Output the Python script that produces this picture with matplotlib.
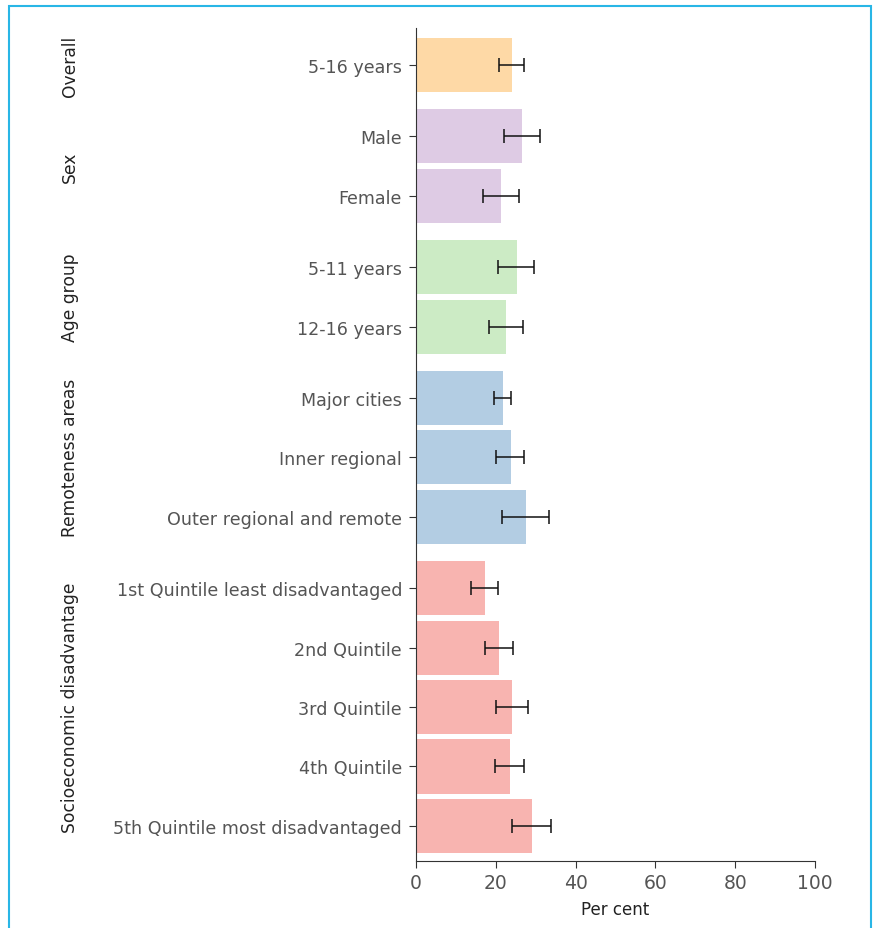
import numpy as np
import matplotlib
matplotlib.use("Agg")
import matplotlib.pyplot as plt
from matplotlib.patches import Rectangle

plt.rcParams['font.family'] = ['DejaVu Sans']

# data
labels = ['5-16 years', 'Male', 'Female', '5-11 years', '12-16 years',
          'Major cities', 'Inner regional', 'Outer regional and remote',
          '1st Quintile least disadvantaged', '2nd Quintile', '3rd Quintile',
          '4th Quintile', '5th Quintile most disadvantaged']
values = [24.0, 26.6, 21.3, 25.3, 22.6, 21.8, 23.8, 27.6, 17.3, 20.8, 24.1, 23.6, 29.1]
ci_low = [20.8, 22.0, 16.8, 20.6, 18.2, 19.5, 20.1, 21.6, 13.7, 17.4, 20.0, 19.8, 24.0]
ci_high = [27.1, 31.0, 25.7, 29.7, 26.8, 23.7, 27.1, 33.3, 20.6, 24.3, 28.1, 27.1, 33.9]
groups = ['Overall', 'Sex', 'Age group', 'Remoteness areas', 'Socioeconomic disadvantage']
group_sizes = [1, 2, 2, 3, 5]
group_colors = ['#fed9a6', '#decbe4', '#ccebc5', '#b3cde3', '#f8b4b0']

# positions with a small gap between groups
pos, colors, group_mid = [], [], []
y = 0.0
for g, n in enumerate(group_sizes):
    start = y
    for k in range(n):
        pos.append(y)
        colors.append(group_colors[g])
        y += 1
    group_mid.append((start + y - 1) / 2)
    y += 0.2
pos = np.array(pos)
values = np.array(values)
err = np.array([values - np.array(ci_low), np.array(ci_high) - values])

fig = plt.figure(figsize=(8.75, 9.29), dpi=100)
ax = fig.add_axes([0.4754, 0.0721, 0.456, 0.8967])

ax.barh(pos, values, height=0.91, color=colors, zorder=2)
ax.errorbar(values, pos, xerr=err, fmt='none', ecolor='#111111',
            elinewidth=1.1, capsize=5, capthick=1.1, zorder=3)

ax.set_ylim(13.39, -0.623)
ax.set_xlim(0, 100)
ax.set_yticks(pos)
ax.set_yticklabels(labels, fontsize=12.6, color='#555555')
ax.set_xticks(np.arange(0, 101, 20))
ax.tick_params(axis='x', labelsize=13.5, labelcolor='#555555', color='#333333', length=5)
ax.tick_params(axis='y', color='#333333', length=5, pad=5)
ax.set_xlabel('Per cent', fontsize=12, color='#222222', labelpad=6)
for s in ['top', 'right']:
    ax.spines[s].set_visible(False)
for s in ['left', 'bottom']:
    ax.spines[s].set_color('#333333')

for name, m in zip(groups, group_mid):
    ax.text(-0.867, m, name, transform=ax.get_yaxis_transform(), rotation=90,
            ha='center', va='center', fontsize=12.3, color='#222222')

# light blue frame around the figure
fig.patches.append(Rectangle((9 / 875, -0.1), 862 / 875, 1.1 - 7 / 929,
                             transform=fig.transFigure, fill=False,
                             edgecolor='#29b6e6', linewidth=1.5))

fig.savefig('out.png', dpi=100)
